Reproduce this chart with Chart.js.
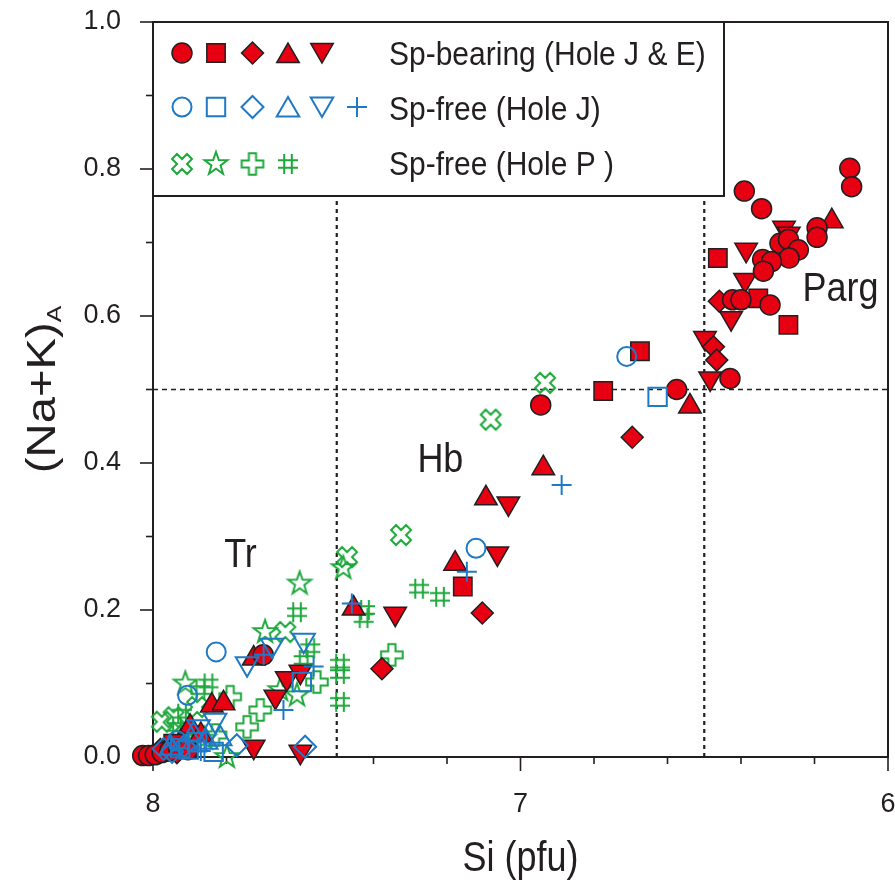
<!DOCTYPE html>
<html>
<head>
<meta charset="utf-8">
<script src="https://cdn.jsdelivr.net/npm/chart.js@4.4.1/dist/chart.umd.min.js"></script>
<style>
  html, body { margin: 0; padding: 0; background: #ffffff; }
  canvas { display: block; }
</style>
</head>
<body>
<canvas id="chart" width="895" height="889" style="width:895px;height:889px"></canvas>
<script>
// Amphibole classification: Si (pfu) vs (Na+K) on the A site.
// Each list holds [Si, (Na+K)A] pairs.

// Sp-bearing (Hole J & E)
const spBearingCircle = [
  [6.104, 0.801], [6.099, 0.776], [6.391, 0.770], [6.344, 0.746], [6.193, 0.720], [6.193, 0.707],
  [6.294, 0.699], [6.271, 0.704], [6.244, 0.690], [6.269, 0.679], [6.341, 0.677], [6.317, 0.674],
  [6.339, 0.661], [6.423, 0.622], [6.400, 0.622], [6.321, 0.615], [6.430, 0.515], [6.575, 0.500],
  [6.945, 0.479], [7.700, 0.139],
  [8.028, 0.002], [8.012, 0.002], [7.994, 0.003], [7.975, 0.006], [7.955, 0.008], [7.930, 0.012], [7.905, 0.010]
];
const spBearingSquare = [
  [6.463, 0.679], [6.353, 0.624], [6.271, 0.588], [6.675, 0.552], [6.775, 0.498], [7.157, 0.232], [7.945, 0.018]
];
const spBearingDiamond = [
  [6.475, 0.558], [6.466, 0.540], [6.459, 0.620], [6.696, 0.435], [7.104, 0.196], [7.377, 0.120],
  [7.980, 0.010], [7.935, 0.006]
];
const spBearingTriUp = [
  [6.153, 0.729], [6.539, 0.477], [6.938, 0.393], [7.094, 0.352], [7.178, 0.263], [7.454, 0.202],
  [7.726, 0.134], [7.840, 0.070], [7.808, 0.073], [7.899, 0.041], [7.870, 0.030], [7.925, 0.020]
];
const spBearingTriDown = [
  [6.283, 0.720], [6.270, 0.712], [6.386, 0.690], [6.389, 0.649], [6.427, 0.597], [6.498, 0.570],
  [6.484, 0.515], [7.033, 0.345], [7.063, 0.277], [7.341, 0.195], [7.599, 0.116], [7.636, 0.107],
  [7.667, 0.082], [7.726, 0.014], [7.599, 0.007]
];

// Sp-free (Hole J)
const holeJCircle = [[6.711, 0.545], [7.121, 0.284], [7.828, 0.143], [7.906, 0.084], [7.935, 0.022]];
const holeJSquare = [[6.627, 0.490], [7.595, 0.102], [7.835, 0.007], [7.926, 0.012], [7.903, 0.010], [7.880, 0.020]];
const holeJDiamond = [[7.586, 0.014], [7.772, 0.016], [7.971, 0.011], [7.948, 0.007], [7.915, 0.015]];
const holeJTriUp = [[7.817, 0.025], [7.855, 0.020], [7.952, 0.012], [7.890, 0.030]];
const holeJTriDown = [[7.590, 0.159], [7.676, 0.152], [7.744, 0.127], [7.831, 0.050], [7.876, 0.041]];
const holeJPlus = [
  [6.888, 0.370], [7.146, 0.252], [7.459, 0.209], [7.699, 0.139], [7.563, 0.123], [7.645, 0.064],
  [7.930, 0.012], [7.905, 0.022], [7.870, 0.008]
];

// Sp-free (Hole P)
const holePCrossX = [
  [6.933, 0.509], [7.081, 0.459], [7.325, 0.302], [7.472, 0.272], [7.640, 0.170], [7.880, 0.068],
  [7.976, 0.048], [7.944, 0.054], [7.910, 0.030]
];
const holePStar = [
  [7.482, 0.257], [7.601, 0.236], [7.695, 0.170], [7.654, 0.091], [7.608, 0.084], [7.912, 0.100],
  [7.799, 0.000], [7.860, 0.025]
];
const holePPlus = [[7.350, 0.139], [7.554, 0.102], [7.708, 0.064], [7.744, 0.041], [7.790, 0.082], [7.830, 0.030]];
const holePHash = [
  [7.276, 0.229], [7.219, 0.218], [7.423, 0.200], [7.427, 0.189], [7.491, 0.127], [7.491, 0.113],
  [7.491, 0.075], [7.608, 0.197], [7.572, 0.148], [7.590, 0.132], [7.849, 0.100], [7.871, 0.091],
  [7.921, 0.059], [7.935, 0.041], [7.890, 0.030]
];

// Axis ranges, tick values and field boundaries
const siRange = [6, 8];
const alkaliRange = [0, 1];
const siTickLabels = [6, 7, 8];
const alkaliTickLabels = ['0.0', '0.2', '0.4', '0.6', '0.8', '1.0'];
const siBoundaries = [7.5, 6.5];
const alkaliBoundary = 0.5;

// Field names, anchored in data units (text centre, baseline)
const fieldNames = [
  { text: 'Tr', si: 7.762, alkali: 0.259 },
  { text: 'Hb', si: 7.218, alkali: 0.388 },
  { text: 'Parg', si: 6.129, alkali: 0.620 }
];
const legendLabels = ['Sp-bearing (Hole J & E)', 'Sp-free (Hole J)', 'Sp-free (Hole P )'];

// ---------- styles ----------
const INK = '#231f20';
const RED = '#e60012';
const BLUE = '#1f79c6';
const GREEN = '#1ea83c';
const CLEAR = 'rgba(0,0,0,0)';

function glyph(size, draw) {
  const c = document.createElement('canvas');
  c.width = size; c.height = size;
  const g = c.getContext('2d');
  g.translate(size / 2, size / 2);
  g.strokeStyle = GREEN;
  g.lineJoin = 'miter';
  draw(g);
  return c;
}
function plusPath(g, L, a) {
  g.beginPath();
  g.moveTo(-a, -L); g.lineTo(a, -L); g.lineTo(a, -a); g.lineTo(L, -a); g.lineTo(L, a); g.lineTo(a, a);
  g.lineTo(a, L); g.lineTo(-a, L); g.lineTo(-a, a); g.lineTo(-L, a); g.lineTo(-L, -a); g.lineTo(-a, -a);
  g.closePath();
}
const openX = glyph(30, g => { g.rotate(Math.PI / 4); plusPath(g, 10.6, 3.5); g.lineWidth = 2; g.stroke(); });
const openPlus = glyph(30, g => { plusPath(g, 10.8, 3.6); g.lineWidth = 2; g.stroke(); });
const openStar = glyph(30, g => {
  g.beginPath();
  for (let i = 0; i < 10; i++) {
    const r = i % 2 === 0 ? 12 : 4.8;
    const ang = -Math.PI / 2 + i * Math.PI / 5;
    const px = r * Math.cos(ang), py = r * Math.sin(ang);
    if (i === 0) g.moveTo(px, py); else g.lineTo(px, py);
  }
  g.closePath(); g.lineWidth = 2; g.stroke();
});
const hashMark = glyph(30, g => {
  g.beginPath();
  g.moveTo(-3.8, -10); g.lineTo(-3.8, 10);
  g.moveTo(3.8, -10); g.lineTo(3.8, 10);
  g.moveTo(-10, -3.8); g.lineTo(10, -3.8);
  g.moveTo(-10, 3.8); g.lineTo(10, 3.8);
  g.lineWidth = 2; g.stroke();
});

const styles = {
  redCircle:  { pointStyle: 'circle',   radius: 10,  rotation: 0,   fill: RED,   stroke: INK,  width: 1.5 },
  redSquare:  { pointStyle: 'rect',     radius: 13,  rotation: 0,   fill: RED,   stroke: INK,  width: 1.5 },
  redDiamond: { pointStyle: 'rectRot',  radius: 11,  rotation: 0,   fill: RED,   stroke: INK,  width: 1.5 },
  redUp:      { pointStyle: 'triangle', radius: 13,  rotation: 0,   fill: RED,   stroke: INK,  width: 1.5 },
  redDown:    { pointStyle: 'triangle', radius: 13,  rotation: 180, fill: RED,   stroke: INK,  width: 1.5 },
  blueCircle: { pointStyle: 'circle',   radius: 9.5, rotation: 0,   fill: CLEAR, stroke: BLUE, width: 2 },
  blueSquare: { pointStyle: 'rect',     radius: 13,  rotation: 0,   fill: CLEAR, stroke: BLUE, width: 2 },
  blueDiamond:{ pointStyle: 'rectRot',  radius: 11,  rotation: 0,   fill: CLEAR, stroke: BLUE, width: 2 },
  blueUp:     { pointStyle: 'triangle', radius: 13,  rotation: 0,   fill: CLEAR, stroke: BLUE, width: 2 },
  blueDown:   { pointStyle: 'triangle', radius: 13,  rotation: 180, fill: CLEAR, stroke: BLUE, width: 2 },
  bluePlus:   { pointStyle: 'cross',    radius: 10,  rotation: 0,   fill: CLEAR, stroke: BLUE, width: 2 },
  greenX:     { pointStyle: openX,      radius: 9,   rotation: 0,   fill: CLEAR, stroke: GREEN, width: 0 },
  greenStar:  { pointStyle: openStar,   radius: 9,   rotation: 0,   fill: CLEAR, stroke: GREEN, width: 0 },
  greenPlus:  { pointStyle: openPlus,   radius: 9,   rotation: 0,   fill: CLEAR, stroke: GREEN, width: 0 },
  greenHash:  { pointStyle: hashMark,   radius: 9,   rotation: 0,   fill: CLEAR, stroke: GREEN, width: 0 }
};

function series(label, pts, st, order) {
  return {
    label,
    data: pts.map(p => ({ x: p[0], y: p[1] })),
    pointStyle: st.pointStyle,
    pointRadius: st.radius,
    pointHoverRadius: st.radius,
    pointRotation: st.rotation,
    pointBackgroundColor: st.fill,
    pointBorderColor: st.stroke,
    pointBorderWidth: st.width,
    showLine: false,
    clip: false,
    order
  };
}

const datasets = [
  series('Sp-free (Hole J) circle', holeJCircle, styles.blueCircle, 0),
  series('Sp-free (Hole J) square', holeJSquare, styles.blueSquare, 0),
  series('Sp-free (Hole J) diamond', holeJDiamond, styles.blueDiamond, 0),
  series('Sp-free (Hole J) triangle', holeJTriUp, styles.blueUp, 0),
  series('Sp-free (Hole J) inverted triangle', holeJTriDown, styles.blueDown, 0),
  series('Sp-free (Hole J) plus', holeJPlus, styles.bluePlus, 0),
  series('Sp-bearing circle', spBearingCircle, styles.redCircle, 1),
  series('Sp-bearing square', spBearingSquare, styles.redSquare, 1),
  series('Sp-bearing diamond', spBearingDiamond, styles.redDiamond, 1),
  series('Sp-bearing triangle', spBearingTriUp, styles.redUp, 1),
  series('Sp-bearing inverted triangle', spBearingTriDown, styles.redDown, 1),
  series('Sp-free (Hole P) cross', holePCrossX, styles.greenX, 2),
  series('Sp-free (Hole P) star', holePStar, styles.greenStar, 2),
  series('Sp-free (Hole P) plus', holePPlus, styles.greenPlus, 2),
  series('Sp-free (Hole P) hash', holePHash, styles.greenHash, 2)
];

const legendRows = [
  { text: legendLabels[0], marks: [styles.redCircle, styles.redSquare, styles.redDiamond, styles.redUp, styles.redDown] },
  { text: legendLabels[1], marks: [styles.blueCircle, styles.blueSquare, styles.blueDiamond, styles.blueUp, styles.blueDown, styles.bluePlus] },
  { text: legendLabels[2], marks: [styles.greenX, styles.greenStar, styles.greenPlus, styles.greenHash] }
];

function drawMark(ctx, st, x, y) {
  ctx.save();
  ctx.fillStyle = st.fill;
  ctx.strokeStyle = st.stroke;
  ctx.lineWidth = st.width;
  const opts = { pointStyle: st.pointStyle, radius: st.radius, rotation: st.rotation, borderWidth: st.width };
  if (Chart.helpers && Chart.helpers.drawPoint) {
    Chart.helpers.drawPoint(ctx, opts, x, y);
  } else if (typeof st.pointStyle === 'object') {
    ctx.drawImage(st.pointStyle, x - st.pointStyle.width / 2, y - st.pointStyle.height / 2);
  }
  ctx.restore();
}

const FONT = '"Liberation Sans", Arial, sans-serif';

const frameAndGuides = {
  id: 'frameAndGuides',
  beforeDatasetsDraw(chart) {
    const { ctx, chartArea: a, scales: { x, y } } = chart;
    ctx.save();
    ctx.strokeStyle = INK;
    // field boundaries
    ctx.setLineDash([4, 4]);
    ctx.lineWidth = 2.2;
    siBoundaries.forEach(si => {
      const px = x.getPixelForValue(si);
      ctx.beginPath(); ctx.moveTo(px, a.bottom); ctx.lineTo(px, a.top); ctx.stroke();
    });
    ctx.setLineDash([5, 4]);
    ctx.lineWidth = 1.4;
    const py = y.getPixelForValue(alkaliBoundary);
    ctx.beginPath(); ctx.moveTo(a.left, py); ctx.lineTo(a.right, py); ctx.stroke();
    ctx.setLineDash([]);
    // frame
    ctx.lineWidth = 2;
    ctx.strokeRect(a.left, a.top, a.right - a.left, a.bottom - a.top);
    // outward ticks: major + minor
    ctx.lineWidth = 1.6;
    for (let i = 0; i <= 10; i++) {
      const v = siRange[0] + i * 0.2;
      const px = x.getPixelForValue(v);
      const len = i % 5 === 0 ? 14 : 7;
      ctx.beginPath(); ctx.moveTo(px, a.bottom); ctx.lineTo(px, a.bottom + len); ctx.stroke();
    }
    for (let i = 0; i <= 10; i++) {
      const v = alkaliRange[0] + i * 0.1;
      const py2 = y.getPixelForValue(v);
      const len = i % 2 === 0 ? 13 : 7;
      ctx.beginPath(); ctx.moveTo(a.left, py2); ctx.lineTo(a.left - len, py2); ctx.stroke();
    }
    ctx.restore();
  },
  afterDatasetsDraw(chart) {
    const { ctx, chartArea: a, scales: { x, y } } = chart;
    ctx.save();
    ctx.fillStyle = INK;
    // field names
    ctx.font = '36px ' + FONT;
    ctx.textAlign = 'center';
    ctx.textBaseline = 'alphabetic';
    fieldNames.forEach(f => {
      ctx.save();
      ctx.translate(x.getPixelForValue(f.si), y.getPixelForValue(f.alkali));
      ctx.scale(1, 1.15);
      ctx.fillText(f.text, 0, 0);
      ctx.restore();
    });

    // legend box
    const lx = a.left, ly = a.top, lw = 724 - a.left, lh = 196 - a.top;
    ctx.fillStyle = '#ffffff';
    ctx.fillRect(lx, ly, lw, lh);
    ctx.strokeStyle = INK;
    ctx.lineWidth = 2;
    ctx.strokeRect(lx, ly, lw, lh);
    const markX = [182, 216, 252.5, 288, 322, 357];
    const rowY = [53, 107, 164];
    const baseY = [65, 120, 175];
    legendRows.forEach((row, r) => {
      row.marks.forEach((st, k) => {
        let dy = 0;
        if (st.pointStyle === 'triangle') dy = st.rotation === 180 ? -3 : 3;
        drawMark(ctx, st, markX[k], rowY[r] + dy);
      });
      ctx.save();
      ctx.fillStyle = INK;
      ctx.font = '30px ' + FONT;
      ctx.textAlign = 'left';
      ctx.textBaseline = 'alphabetic';
      ctx.translate(389, baseY[r]);
      ctx.scale(1, 1.08);
      ctx.fillText(row.text, 0, 0);
      ctx.restore();
    });

    // x-axis title
    ctx.save();
    ctx.fillStyle = INK;
    ctx.font = '36px ' + FONT;
    ctx.textAlign = 'center';
    ctx.textBaseline = 'alphabetic';
    ctx.translate((a.left + a.right) / 2, 871);
    ctx.scale(1, 1.18);
    ctx.fillText('Si (pfu)', 0, 0);
    ctx.restore();

    // y-axis title with subscript A
    ctx.save();
    ctx.fillStyle = INK;
    ctx.translate(55, (a.top + a.bottom) / 2);
    ctx.rotate(-Math.PI / 2);
    ctx.scale(1.18, 1);
    ctx.textAlign = 'left';
    ctx.textBaseline = 'alphabetic';
    ctx.font = '40px ' + FONT;
    const mainW = ctx.measureText('(Na+K)').width;
    ctx.font = '21px ' + FONT;
    const subW = ctx.measureText('A').width;
    const start = -(mainW + subW) / 2;
    ctx.font = '40px ' + FONT;
    ctx.fillText('(Na+K)', start, 0);
    ctx.font = '21px ' + FONT;
    ctx.fillText('A', start + mainW, 6);
    ctx.restore();

    ctx.restore();
  }
};

new Chart(document.getElementById('chart'), {
  type: 'scatter',
  data: { datasets },
  options: {
    responsive: false,
    devicePixelRatio: 1,
    animation: false,
    events: [],
    layout: { autoPadding: false, padding: { left: 0, top: 22, right: 7, bottom: 0 } },
    plugins: { legend: { display: false }, tooltip: { enabled: false } },
    scales: {
      x: {
        type: 'linear',
        reverse: true,
        min: siRange[0],
        max: siRange[1],
        afterBuildTicks: s => { s.ticks = siTickLabels.map(v => ({ value: v })); },
        ticks: {
          color: INK,
          font: { family: FONT, size: 27 },
          padding: 31,
          maxRotation: 0,
          callback: v => String(v)
        },
        grid: { display: false, drawTicks: false },
        border: { display: false },
        afterFit: s => { s.height = 132; s.paddingLeft = 0; s.paddingRight = 0; }
      },
      y: {
        type: 'linear',
        min: alkaliRange[0],
        max: alkaliRange[1],
        afterBuildTicks: s => { s.ticks = alkaliTickLabels.map(t => ({ value: parseFloat(t) })); },
        ticks: {
          color: INK,
          font: { family: FONT, size: 27 },
          padding: 32,
          callback: (v, i) => alkaliTickLabels[i]
        },
        grid: { display: false, drawTicks: false },
        border: { display: false },
        afterFit: s => { s.width = 153; s.paddingTop = 0; s.paddingBottom = 0; }
      }
    }
  },
  plugins: [frameAndGuides]
});
</script>
</body>
</html>
